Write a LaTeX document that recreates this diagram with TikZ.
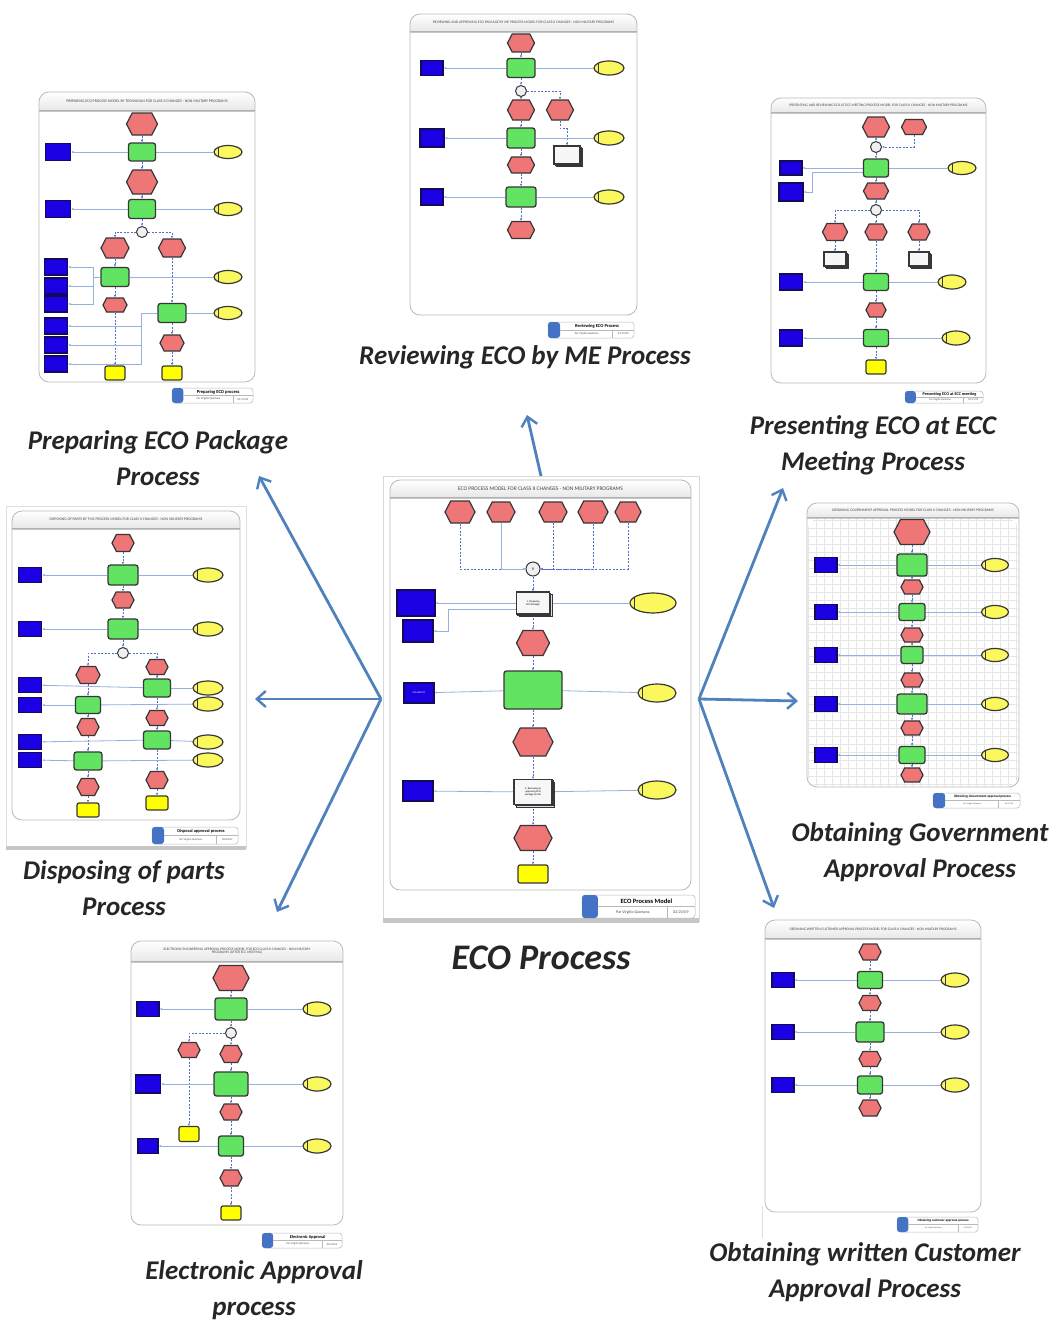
\documentclass[tikz,border=0pt]{standalone}
\usepackage{fontspec}
\setmainfont{Carlito}
\usetikzlibrary{shapes.geometric,shapes.symbols,arrows.meta,shadows,calc}
\definecolor{evtred}{RGB}{238,118,118}
\definecolor{fngreen}{RGB}{98,228,98}
\definecolor{orgblue}{RGB}{28,0,228}
\definecolor{orgedge}{RGB}{20,10,90}
\definecolor{rolyel}{RGB}{250,248,92}
\definecolor{endyel}{RGB}{255,255,0}
\definecolor{edgec}{RGB}{55,55,55}
\definecolor{hlc}{RGB}{150,176,226}
\definecolor{dlc}{RGB}{80,112,205}
\definecolor{arrc}{RGB}{79,129,189}
\definecolor{ftblue}{RGB}{68,114,196}
\pgfdeclarelayer{back}
\pgfdeclarelayer{mid}
\pgfsetlayers{back,mid,main}

\newcommand\thumb[8]{%
 \begin{pgfonlayer}{back}
 \begin{scope}
 \clip[rounded corners=10pt] (#2,#3) rectangle (#4,#5);
 \fill[white] (#2,#3) rectangle (#4,#5);
 \shade[top color=white, bottom color=gray!18] (#2,#3) rectangle (#4,#6);
 \end{scope}
 \draw[gray!55, line width=0.8pt, rounded corners=10pt] (#2,#3) rectangle (#4,#5);
 \draw[gray!60, line width=0.5pt] (#2,#6) -- (#4,#6);
 \draw[gray!45, line width=0.5pt] (#2,{#6+1.5}) -- (#4,{#6+1.5});
 \end{pgfonlayer}
 \node[ttl, font=\fontsize{#8}{#8}\selectfont] (#1title) at ({(#2+#4)/2},{(#3+#6)/2}) {#7};
}
\newcommand\foot[8]{%
 \draw[gray!55, fill=white, rounded corners=3pt, line width=0.5pt] (#2,#3) rectangle (#4,#5);
 \fill[ftblue, rounded corners=3pt] (#2,#3) rectangle ({#2+0.14*(#4-#2)},#5);
 \draw[gray!55, line width=0.4pt] ({#2+0.14*(#4-#2)},{(#3+#5)/2}) -- (#4,{(#3+#5)/2});
 \draw[gray!55, line width=0.4pt] ({#4-0.25*(#4-#2)},{(#3+#5)/2}) -- ({#4-0.25*(#4-#2)},#5);
 \node[inner sep=0, font=\bfseries\fontsize{#8}{#8}\selectfont] (#1fn) at ({#2+0.57*(#4-#2)},{#3+0.27*(#5-#3)}) {#6};
 \node[inner sep=0, text=gray!60!black, font=\fontsize{\fpeval{0.62*#8}}{#8}\selectfont] (#1fa) at ({#2+0.45*(#4-#2)},{#3+0.75*(#5-#3)}) {Par Virgilio Quintana};
 \node[inner sep=0, text=gray!60!black, font=\fontsize{\fpeval{0.62*#8}}{#8}\selectfont] (#1fd) at ({#4-0.125*(#4-#2)},{#3+0.75*(#5-#3)}) {#7};
}

\begin{document}
\begin{tikzpicture}[x=1pt,y=-1pt,
 sz/.style 2 args={minimum width=#1pt,minimum height=#2pt},
 evt/.style={signal, signal to=west and east, signal pointer angle=125, fill=evtred, draw=edgec, line width=1.2pt, inner sep=0pt, sz={26}{18}, font=\fontsize{2.6}{3}\selectfont, align=center},
 fn/.style={rectangle, rounded corners=2.5pt, fill=fngreen, draw=edgec, line width=1.3pt, inner sep=0pt, sz={27}{19}, font=\fontsize{2.6}{3}\selectfont, align=center},
 org/.style={rectangle, fill=orgblue, draw=orgedge, line width=1.2pt, inner sep=0pt, sz={23}{16}, text=white, font=\fontsize{2.6}{3}\selectfont, align=center},
 rol/.style={ellipse, fill=rolyel, draw=edgec, line width=1.2pt, inner sep=0pt, sz={29}{14},
   path picture={\draw[edgec, line width=0.7pt] ([xshift=4pt]path picture bounding box.north west) -- ([xshift=4pt]path picture bounding box.south west);}},
 endb/.style={rectangle, rounded corners=2pt, fill=endyel, draw=edgec, line width=1.2pt, inner sep=0pt, sz={20}{14}},
 pif/.style={rectangle, fill=gray!6, draw=edgec, line width=1.1pt, inner sep=0pt, sz={26}{18}, double copy shadow={shadow xshift=1.3pt, shadow yshift=-1.3pt, fill=gray!25, draw=edgec}, font=\fontsize{2.6}{3}\selectfont, align=center},
 con/.style={circle, fill=gray!12, draw=edgec, line width=1pt, minimum size=11pt, inner sep=0pt, font=\fontsize{4}{4}\selectfont},
 ttl/.style={inner sep=0pt, align=center, text=gray!55!black},
 dl/.style={draw=dlc, dash pattern=on 2pt off 1.5pt, line width=0.7pt, -{Latex[length=2.4pt,width=2.2pt]}},
 hl/.style={draw=hlc, line width=0.8pt},
 hla/.style={hl, -{Latex[length=2.4pt,width=2.2pt]}},
 big/.style={draw=arrc, line width=2.8pt, -{Straight Barb[length=9pt,width=16pt,line width=2.4pt]}},
 lab/.style={font=\bfseries\itshape\fontsize{27}{36}\selectfont, align=center, text=black!85, inner sep=0pt}
]
\useasboundingbox (0,0) rectangle (1060,1322);
\begin{pgfonlayer}{back}
\fill[white] (0,0) rectangle (1060,1322);
\end{pgfonlayer}

% ================= CENTER: ECO process =================
\begin{pgfonlayer}{back}
\draw[gray!30, fill=white, line width=0.6pt] (383,476) rectangle (699,921);
\fill[gray!45] (383,918) rectangle (699,923);
\end{pgfonlayer}
\thumb{c}{390}{480}{691}{890}{497}{ECO PROCESS MODEL FOR CLASS II CHANGES - NON MILITARY PROGRAMS}{5.5}
\node[evt,sz={30}{22}] (ce1) at (460,512) {};
\node[evt,sz={28}{20}] (ce2) at (501,512) {};
\node[evt,sz={28}{20}] (ce3) at (553,512) {};
\node[evt,sz={30}{22}] (ce4) at (593,512) {};
\node[evt,sz={26}{20}] (ce5) at (628,512) {};
\node[con,minimum size=14pt] (ccon) at (533,569) {V};
\node[pif,sz={33}{22}] (cf1) at (533,603) {1. Preparing\\ECO Package};
\node[org,sz={38}{26}] (cb1) at (416,603) {};
\node[org,sz={30}{22}] (cb2) at (418,631) {};
\node[rol,sz={46}{20}] (cr1) at (653,603) {};
\node[evt,sz={33}{25}] (ce6) at (533,643) {};
\node[fn,sz={58}{38}] (cg1) at (533,690) {};
\node[org,sz={30}{20}] (cb3) at (419,693) {Checklist \#1};
\node[rol,sz={38}{18}] (cr2) at (657,693) {};
\node[evt,sz={40}{28}] (ce7) at (533,742) {};
\node[pif,sz={38}{25}] (cf2) at (533,792) {2. Reviewing \&\\approving ECO\\package by ME};
\node[org,sz={30}{20}] (cb4) at (418,791) {};
\node[rol,sz={38}{18}] (cr3) at (657,790) {};
\node[evt,sz={38}{25}] (ce8) at (533,838) {};
\node[endb,sz={30}{18}] (cend) at (533,874) {};
\begin{pgfonlayer}{mid}
\draw[dl] (ce1.south) |- (ccon.west);
\draw[hla] (ce2.south) |- (ccon.west);
\draw[dl] (ce3.south) |- (ccon.east);
\draw[dl] (ce4.south) |- (ccon.east);
\draw[dl] (ce5.south) |- (ccon.east);
\foreach \a/\b in {ccon/cf1, cf1/ce6, ce6/cg1, cg1/ce7, ce7/cf2, cf2/ce8, ce8/cend} \draw[dl] (\a) -- (\b);
\foreach \a/\b in {cf1/cb1, cg1/cb3, cf2/cb4} \draw[hla] (\a) -- (\b);
\foreach \a/\b in {cf1/cr1, cg1/cr2, cf2/cr3} \draw[hl] (\a) -- (\b);
\draw[hla] ([yshift=-6pt]cf1.west) -- (448,609) |- (cb2.east);
\end{pgfonlayer}
\foot{c}{582}{895}{695}{918}{ECO Process Model}{02/23/09}{6.5}

% ================= Reviewing =================
\thumb{r}{410}{14}{637}{315}{31}{REVIEWING AND APPROVING ECO PACKAGE BY ME PROCESS MODEL FOR CLASS II CHANGES - NON MILITARY PROGRAMS}{3.7}
\node[evt,sz={27}{18}] (re1) at (521,43) {};
\node[fn,sz={28}{19}] (rg1) at (521,68) {};
\node[org,sz={22}{15}] (rb1) at (432,68) {};
\node[rol,sz={30}{14}] (rr1) at (609,68) {};
\node[con] (rcon) at (521,91) {};
\node[evt,sz={27}{20}] (re2) at (521,110) {};
\node[evt,sz={27}{20}] (re3) at (560,110) {};
\node[fn,sz={28}{20}] (rg2) at (521,138) {};
\node[org,sz={24}{18}] (rb2) at (432,138) {};
\node[rol,sz={30}{14}] (rr2) at (609,138) {};
\node[pif,sz={26}{18}] (rf1) at (567,155) {};
\node[evt,sz={27}{16}] (re4) at (521,165) {};
\node[fn,sz={30}{20}] (rg3) at (521,197) {};
\node[org,sz={22}{16}] (rb3) at (432,197) {};
\node[rol,sz={30}{14}] (rr3) at (609,197) {};
\node[evt,sz={27}{17}] (re5) at (521,230) {};
\begin{pgfonlayer}{mid}
\foreach \a/\b in {re1/rg1, rg1/rcon, rcon/re2, re2/rg2, rg2/re4, re4/rg3, rg3/re5} \draw[dl] (\a) -- (\b);
\draw[dl] (rcon.east) -| (re3.north);
\draw[dl] (re3.south) -- ++(0,8) -| (rf1.north);
\foreach \a/\b in {rg1/rb1, rg2/rb2, rg3/rb3} \draw[hla] (\a) -- (\b);
\foreach \a/\b in {rg1/rr1, rg2/rr2, rg3/rr3} \draw[hl] (\a) -- (\b);
\end{pgfonlayer}
\foot{r}{548}{322}{634}{338}{Reviewing ECO Process}{01/15/09}{4.6}

% ================= Preparing =================
\thumb{p}{39}{92}{255}{382}{110}{PREPARING ECO PROCESS MODEL BY TECHNICIAN FOR CLASS II CHANGES - NON MILITARY PROGRAMS}{3.9}
\node[evt,sz={31}{22}] (pe1) at (142,124) {};
\node[fn,sz={27}{18}] (pg1) at (142,152) {};
\node[org,sz={25}{17}] (pb1) at (58,152) {};
\node[rol,sz={28}{13}] (pr1) at (228,152) {};
\node[evt,sz={31}{24}] (pe2) at (142,182) {};
\node[fn,sz={27}{19}] (pg2) at (142,209) {};
\node[org,sz={25}{17}] (pb2) at (58,209) {};
\node[rol,sz={28}{13}] (pr2) at (228,209) {};
\node[con] (pcon) at (142,232) {};
\node[evt,sz={28}{20}] (pe3) at (115,248) {};
\node[evt,sz={27}{18}] (pe4) at (172,248) {};
\node[fn,sz={28}{19}] (pg3) at (115,277) {};
\node[rol,sz={28}{13}] (pr3) at (228,277) {};
\node[org] (pb3) at (56,267) {};
\node[org] (pb4) at (56,286) {};
\node[org] (pb5) at (56,304) {};
\node[evt,sz={24}{14}] (pe5) at (115,305) {};
\node[fn,sz={28}{19}] (pg4) at (172,313) {};
\node[rol,sz={28}{13}] (pr4) at (228,313) {};
\node[org] (pb6) at (56,326) {};
\node[org] (pb7) at (56,345) {};
\node[org] (pb8) at (56,364) {};
\node[evt,sz={24}{16}] (pe6) at (172,343) {};
\node[endb] (pend1) at (115,373) {};
\node[endb] (pend2) at (172,373) {};
\begin{pgfonlayer}{mid}
\foreach \a/\b in {pe1/pg1, pg1/pe2, pe2/pg2, pg2/pcon, pe3/pg3, pg3/pe5, pe5/pend1, pe4/pg4, pg4/pe6, pe6/pend2} \draw[dl] (\a) -- (\b);
\draw[dl] (pcon.west) -| (pe3.north);
\draw[dl] (pcon.east) -| (pe4.north);
\foreach \a/\b in {pg1/pb1, pg2/pb2} \draw[hla] (\a) -- (\b);
\foreach \a/\b in {pg1/pr1, pg2/pr2, pg3/pr3, pg4/pr4} \draw[hl] (\a) -- (\b);
\draw[hla] (pg3.west) -- (93,277) |- (pb3.east);
\draw[hla] (pg3.west) -- (93,277) |- (pb4.east);
\draw[hla] (pg3.west) -- (93,277) |- (pb5.east);
\draw[hla] (pg4.west) -- (141,313) |- (pb6.east);
\draw[hla] (pg4.west) -- (141,313) |- (pb7.east);
\draw[hla] (pg4.west) -- (141,313) |- (pb8.east);
\end{pgfonlayer}
\foot{p}{172}{388}{253}{403}{Preparing ECO process}{01/11/09}{4.6}

% ================= Presenting =================
\thumb{s}{771}{98}{986}{383}{112}{PRESENTING AND REVIEWING ECO AT ECC MEETING PROCESS MODEL FOR CLASS II CHANGES - NON MILITARY PROGRAMS}{3.6}
\node[evt,sz={27}{20}] (se1) at (876,127) {};
\node[evt,sz={25}{15}] (se2) at (914,127) {};
\node[con] (scon1) at (876,147) {};
\node[fn,sz={25}{18}] (sg1) at (876,168) {};
\node[org,sz={22}{14}] (sb1) at (791,168) {};
\node[org,sz={24}{18}] (sb2) at (791,192) {};
\node[rol,sz={28}{13}] (sr1) at (962,168) {};
\node[evt,sz={25}{16}] (se3) at (876,191) {};
\node[con] (scon2) at (876,210) {};
\node[evt,sz={25}{17}] (se4) at (835,232) {};
\node[evt,sz={22}{16}] (se5) at (876,232) {};
\node[evt,sz={22}{16}] (se6) at (919,232) {};
\node[pif,sz={22}{14}] (sf1) at (835,259) {};
\node[pif,sz={20}{14}] (sf2) at (919,259) {};
\node[fn,sz={25}{17}] (sg2) at (876,282) {};
\node[org,sz={23}{16}] (sb3) at (791,282) {};
\node[rol,sz={28}{14}] (sr2) at (952,282) {};
\node[evt,sz={20}{14}] (se7) at (876,310) {};
\node[fn,sz={25}{17}] (sg3) at (876,338) {};
\node[org,sz={23}{16}] (sb4) at (791,338) {};
\node[rol,sz={28}{14}] (sr3) at (956,338) {};
\node[endb] (send) at (876,367) {};
\begin{pgfonlayer}{mid}
\foreach \a/\b in {se1/scon1, scon1/sg1, sg1/se3, se3/scon2, scon2/se5, se5/sg2, sg2/se7, se7/sg3, sg3/send, se4/sf1, se6/sf2} \draw[dl] (\a) -- (\b);
\draw[dl] (se2.south) |- (scon1.east);
\draw[dl] (scon2.west) -| (se4.north);
\draw[dl] (scon2.east) -| (se6.north);
\foreach \a/\b in {sg1/sb1, sg2/sb3, sg3/sb4} \draw[hla] (\a) -- (\b);
\foreach \a/\b in {sg1/sr1, sg2/sr2, sg3/sr3} \draw[hl] (\a) -- (\b);
\draw[hla] ([yshift=-4pt]sg1.west) -- (812,172) |- (sb2.east);
\end{pgfonlayer}
\foot{s}{905}{391}{983}{403}{Presenting ECO at ECC meeting}{02/17/09}{4.2}

% ================= Disposing =================
\begin{pgfonlayer}{back}
\draw[gray!25, fill=white, line width=0.5pt] (6,506) rectangle (246,848);
\fill[gray!45] (6,846) rectangle (246,850);
\end{pgfonlayer}
\thumb{d}{12}{511}{240}{820}{528}{DISPOSING OF PARTS BY TMC PROCESS MODEL FOR CLASS II CHANGES - NON MILITARY PROGRAMS}{3.8}
\node[evt,sz={22}{17}] (de1) at (123,543) {};
\node[fn,sz={30}{20}] (dg1) at (123,575) {};
\node[org,sz={23}{15}] (db1) at (30,575) {};
\node[rol,sz={30}{14}] (dr1) at (208,575) {};
\node[evt,sz={22}{16}] (de2) at (123,600) {};
\node[fn,sz={30}{20}] (dg2) at (123,629) {};
\node[org,sz={23}{15}] (db2) at (30,629) {};
\node[rol,sz={30}{14}] (dr2) at (208,629) {};
\node[con] (dcon) at (123,653) {};
\node[evt,sz={24}{17}] (de3) at (88,675) {};
\node[evt,sz={22}{15}] (de4) at (157,667) {};
\node[fn,sz={27}{18}] (dg3) at (157,688) {};
\node[org,sz={23}{15}] (db3) at (30,685) {};
\node[org,sz={23}{15}] (db4) at (30,705) {};
\node[org,sz={23}{15}] (db5) at (30,742) {};
\node[org,sz={23}{15}] (db6) at (30,760) {};
\node[rol,sz={30}{14}] (dr3) at (208,688) {};
\node[rol,sz={30}{14}] (dr4) at (208,704) {};
\node[rol,sz={30}{14}] (dr5) at (208,742) {};
\node[rol,sz={30}{14}] (dr6) at (208,760) {};
\node[fn,sz={25}{17}] (dg4) at (88,705) {};
\node[evt,sz={22}{15}] (de5) at (157,718) {};
\node[evt,sz={22}{17}] (de6) at (88,727) {};
\node[fn,sz={27}{18}] (dg5) at (157,740) {};
\node[fn,sz={28}{18}] (dg6) at (88,761) {};
\node[evt,sz={22}{17}] (de7) at (157,780) {};
\node[evt,sz={22}{17}] (de8) at (88,787) {};
\node[endb,sz={22}{14}] (dend1) at (157,803) {};
\node[endb,sz={22}{14}] (dend2) at (88,810) {};
\begin{pgfonlayer}{mid}
\foreach \a/\b in {de1/dg1, dg1/de2, de2/dg2, dg2/dcon, de3/dg4, dg4/de6, de6/dg6, dg6/de8, de8/dend2, de4/dg3, dg3/de5, de5/dg5, dg5/de7, de7/dend1} \draw[dl] (\a) -- (\b);
\draw[dl] (dcon.west) -| (de3.north);
\draw[dl] (dcon.east) -| (de4.north);
\foreach \a/\b in {dg1/db1, dg2/db2, dg3/db3, dg4/db4, dg5/db5, dg6/db6} \draw[hla] (\a) -- (\b);
\foreach \a/\b in {dg1/dr1, dg2/dr2, dg3/dr3, dg4/dr4, dg5/dr5, dg6/dr6} \draw[hl] (\a) -- (\b);
\end{pgfonlayer}
\foot{d}{152}{827}{238}{844}{Disposal approval process}{03/03/09}{4.4}

% ================= Government =================
\thumb{g}{807}{503}{1019}{787}{517}{OBTAINING GOVERNMENT APPROVAL PROCESS MODEL FOR CLASS II CHANGES - NON MILITARY PROGRAMS}{3.7}
\begin{pgfonlayer}{back}
\begin{scope}
\clip[rounded corners=10pt] (808,519) rectangle (1018,786);
\draw[gray!20, line width=0.3pt, step=8pt] (800,515) grid (1025,790);
\end{scope}
\end{pgfonlayer}
\node[evt,sz={36}{25}] (ge1) at (912,532) {};
\node[fn,sz={30}{22}] (gg1) at (912,565) {};
\node[evt,sz={22}{14}] (ge2) at (912,587) {};
\node[fn,sz={26}{17}] (gg2) at (912,612) {};
\node[evt,sz={22}{14}] (ge3) at (912,635) {};
\node[fn,sz={22}{17}] (gg3) at (912,655) {};
\node[evt,sz={22}{14}] (ge4) at (912,680) {};
\node[fn,sz={30}{20}] (gg4) at (912,704) {};
\node[evt,sz={22}{14}] (ge5) at (912,728) {};
\node[fn,sz={26}{17}] (gg5) at (912,755) {};
\node[evt,sz={22}{14}] (ge6) at (912,775) {};
\foreach \i/\yy in {1/565, 2/612, 3/655, 4/704, 5/755} {
 \node[org,sz={22}{15}] (gb\i) at (826,\yy) {};
 \node[rol,sz={27}{13}] (gr\i) at (995,\yy) {};
}
\begin{pgfonlayer}{mid}
\foreach \a/\b in {ge1/gg1, gg1/ge2, ge2/gg2, gg2/ge3, ge3/gg3, gg3/ge4, ge4/gg4, gg4/ge5, ge5/gg5, gg5/ge6} \draw[dl] (\a) -- (\b);
\foreach \i in {1,...,5} {\draw[hla] (gg\i) -- (gb\i); \draw[hl] (gg\i) -- (gr\i);}
\end{pgfonlayer}
\foot{g}{933}{793}{1020}{808}{Obtaining Government approval process}{02/17/09}{3.4}

% ================= Customer =================
\begin{pgfonlayer}{back}
\draw[gray!25, line width=0.5pt] (762,1206) -- (762,1238);
\end{pgfonlayer}
\thumb{u}{765}{920}{981}{1212}{938}{OBTAINING WRITTEN CUSTOMER APPROVAL PROCESS MODEL FOR CLASS II CHANGES - NON MILITARY PROGRAMS}{3.6}
\node[evt,sz={22}{16}] (ue1) at (870,952) {};
\node[fn,sz={25}{17}] (ug1) at (870,980) {};
\node[evt,sz={22}{15}] (ue2) at (870,1003) {};
\node[fn,sz={28}{20}] (ug2) at (870,1032) {};
\node[evt,sz={22}{15}] (ue3) at (870,1059) {};
\node[fn,sz={25}{18}] (ug3) at (870,1085) {};
\node[evt,sz={22}{16}] (ue4) at (870,1108) {};
\foreach \i/\yy in {1/980, 2/1032, 3/1085} {
 \node[org,sz={22}{15}] (ub\i) at (783,\yy) {};
 \node[rol,sz={28}{14}] (ur\i) at (955,\yy) {};
}
\begin{pgfonlayer}{mid}
\foreach \a/\b in {ue1/ug1, ug1/ue2, ue2/ug2, ug2/ue3, ue3/ug3, ug3/ue4} \draw[dl] (\a) -- (\b);
\foreach \i in {1,2,3} {\draw[hla] (ug\i) -- (ub\i); \draw[hl] (ug\i) -- (ur\i);}
\end{pgfonlayer}
\foot{u}{897}{1217}{978}{1232}{Obtaining customer approval process}{02/26/09}{3.3}

% ================= Electronic =================
\thumb{e}{131}{941}{343}{1225}{961}{ELECTRONIC ENGINEERING APPROVAL PROCESS MODEL FOR ECO CLASS II CHANGES - NON MILITARY\\PROGRAMS (AFTER ECC MEETING)}{3.6}
\node[evt,sz={36}{25}] (ee1) at (231,978) {};
\node[fn,sz={32}{22}] (eg1) at (231,1009) {};
\node[org,sz={22}{15}] (eb1) at (148,1009) {};
\node[rol,sz={28}{14}] (er1) at (317,1009) {};
\node[con] (econ) at (231,1033) {};
\node[evt,sz={22}{15}] (ee2) at (189,1050) {};
\node[evt,sz={22}{17}] (ee3) at (231,1054) {};
\node[fn,sz={34}{24}] (eg2) at (231,1084) {};
\node[org,sz={25}{18}] (eb2) at (148,1084) {};
\node[rol,sz={28}{14}] (er2) at (317,1084) {};
\node[evt,sz={22}{16}] (ee4) at (231,1112) {};
\node[endb,sz={20}{15}] (eend1) at (189,1134) {};
\node[fn,sz={25}{20}] (eg3) at (231,1146) {};
\node[org,sz={20}{15}] (eb3) at (148,1146) {};
\node[rol,sz={28}{14}] (er3) at (317,1146) {};
\node[evt,sz={22}{16}] (ee5) at (231,1178) {};
\node[endb,sz={20}{14}] (eend2) at (231,1213) {};
\begin{pgfonlayer}{mid}
\foreach \a/\b in {ee1/eg1, eg1/econ, econ/ee3, ee3/eg2, eg2/ee4, ee4/eg3, eg3/ee5, ee5/eend2, ee2/eend1} \draw[dl] (\a) -- (\b);
\draw[dl] (econ.west) -| (ee2.north);
\foreach \i in {1,2,3} {\draw[hla] (eg\i) -- (eb\i); \draw[hl] (eg\i) -- (er\i);}
\end{pgfonlayer}
\foot{e}{262}{1233}{342}{1248}{Electronic Approval}{02/23/09}{4.4}

% ================= Labels =================
\node[lab] (lrev) at (525,357) {Reviewing ECO by ME Process};
\node[lab] (lprep) at (158,458) {Preparing ECO Package\\Process};
\node[lab] (lpres) at (873,445) {Presenting ECO at ECC\\Meeting Process};
\node[lab] (ldisp) at (124,888) {Disposing of parts\\Process};
\node[lab] (lgov) at (920,852) {Obtaining Government\\Approval Process};
\node[lab] (lcust) at (865,1272) {Obtaining written Customer\\Approval Process};
\node[lab] (lelec) at (254,1290) {Electronic Approval\\process};
\node[lab, font=\bfseries\itshape\fontsize{36}{40}\selectfont] (leco) at (541,958) {ECO Process};

% ================= Big arrows =================
\coordinate (hubL) at (381,699);
\coordinate (hubR) at (699,699);
\coordinate (hubT) at (541,476);
\coordinate (tRev) at (527,415);
\coordinate (tPrep) at (259,476);
\coordinate (tDisp) at (255,699);
\coordinate (tElec) at (277,912);
\coordinate (tPres) at (783,488);
\coordinate (tGov) at (798,701);
\coordinate (tCust) at (774,908);
\draw[big] (hubT) -- (tRev);
\draw[big] (hubL) -- (tPrep);
\draw[big] (hubL) -- (tDisp);
\draw[big] (hubL) -- (tElec);
\draw[big] (hubR) -- (tPres);
\draw[big] (hubR) -- (tGov);
\draw[big] (hubR) -- (tCust);
\end{tikzpicture}
\end{document}
